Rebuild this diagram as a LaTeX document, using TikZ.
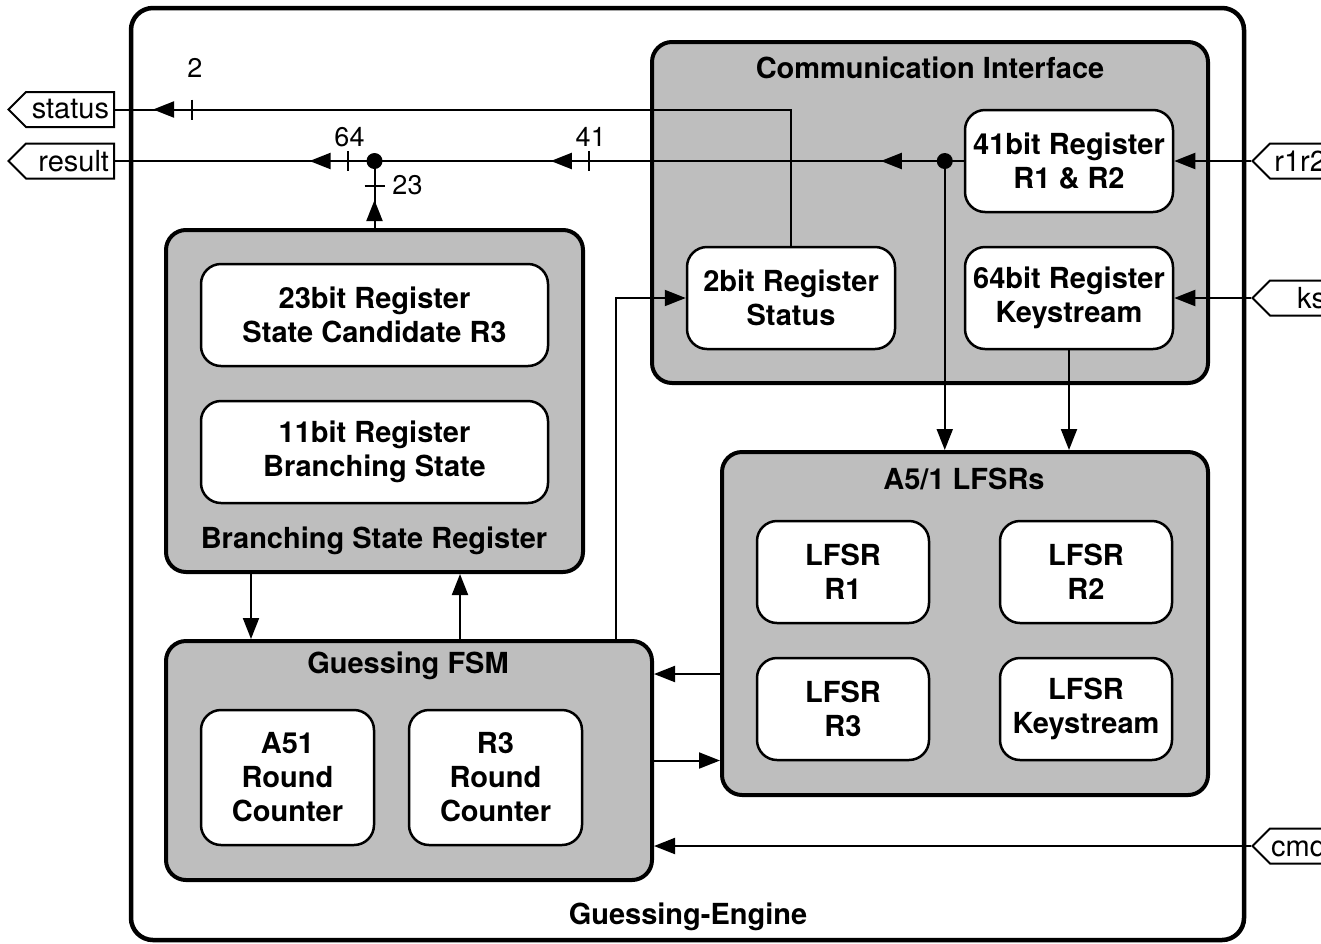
\documentclass[tikz,border=0pt]{standalone}
\usepackage{fontspec}
\setmainfont{TeX Gyre Heros}
\usetikzlibrary{arrows.meta,shapes.symbols}
\definecolor{boxgray}{RGB}{190,190,190}
\newcommand\blockfont{\fontsize{29}{34}\selectfont\bfseries}
\newcommand\portfont{\fontsize{29}{34}\selectfont}
\newcommand\widthfont{\fontsize{27}{32}\selectfont}
\tikzset{
  engine/.style={draw, line width=4.5pt, rounded corners=22pt},
  group/.style={draw, fill=boxgray, line width=4pt, rounded corners=20pt, inner sep=0pt},
  reg/.style={draw, fill=white, line width=2.5pt, rounded corners=20pt, align=center, inner sep=0pt, font=\blockfont},
  title/.style={font=\blockfont, inner sep=0pt},
  port/.style={shape=signal, signal to=west, signal from=nowhere, draw, fill=white,
    line width=2pt, minimum height=35pt, inner ysep=0pt, font=\portfont, align=right},
  wire/.style={line width=2pt},
  tip/.style={-{Triangle[length=21pt,width=16pt]}},
  buswidth/.style={font=\widthfont, inner sep=0pt},
}
\begin{document}
\begin{tikzpicture}[x=1pt,y=-1pt]
\useasboundingbox (0,0) rectangle (1321,943);

% enclosing engine
\draw[engine] (131,8) rectangle (1244,940);
\node[title] (engtitle) at (688,917) {Guessing-Engine};

% group blocks
\node[group, minimum width=556pt, minimum height=341pt] (comm) at (930,212.5) {};
\node[title] (commtitle) at (930,68) {Communication Interface};
\node[group, minimum width=486pt, minimum height=343pt] (lfsrs) at (965,623.5) {};
\node[title] (lfsrtitle) at (964,479) {A5/1 LFSRs};
\node[group, minimum width=417pt, minimum height=342pt] (bsr) at (374.5,401) {};
\node[title] (bsrtitle) at (374,541) {Branching State Register};
\node[group, minimum width=486pt, minimum height=239pt] (fsm) at (409,760.5) {};
\node[title] (fsmtitle) at (408,666) {Guessing FSM};

% registers
\node[reg, minimum width=208pt, minimum height=102pt] (r12) at (1069,161) {41bit Register\\R1 \& R2};
\node[reg, minimum width=208pt, minimum height=102pt] (ksreg) at (1069,298) {64bit Register\\Keystream};
\node[reg, minimum width=208pt, minimum height=102pt] (streg) at (791,298) {2bit Register\\Status};
\node[reg, minimum width=172pt, minimum height=102pt] (lr1) at (843,572) {LFSR\\R1};
\node[reg, minimum width=172pt, minimum height=102pt] (lr2) at (1086,572) {LFSR\\R2};
\node[reg, minimum width=172pt, minimum height=102pt] (lr3) at (843,709) {LFSR\\R3};
\node[reg, minimum width=172pt, minimum height=102pt] (lks) at (1086,709) {LFSR\\Keystream};
\node[reg, minimum width=347pt, minimum height=102pt] (r3reg) at (374.5,315) {23bit Register\\State Candidate R3};
\node[reg, minimum width=347pt, minimum height=102pt] (brreg) at (374.5,452) {11bit Register\\Branching State};
\node[reg, minimum width=173pt, minimum height=135pt] (a51) at (287.5,777.5) {A51\\Round\\Counter};
\node[reg, minimum width=173pt, minimum height=135pt] (r3c) at (495.5,777.5) {R3\\Round\\Counter};

% ports
\node[port, text width=78pt, inner xsep=5pt, anchor=east] (status) at (115,109.5) {status};
\node[port, text width=78pt, inner xsep=5pt, anchor=east] (result) at (115,161) {result};
\node[port, text width=55pt, inner xsep=1pt, anchor=east] (r1r2) at (1328,161) {r1r2};
\node[port, text width=55pt, inner xsep=1pt, anchor=east] (ksport) at (1328,298) {ks};
\node[port, text width=55pt, inner xsep=1pt, anchor=east] (cmd) at (1328,846) {cmd};

% status bus (2 bit)
\draw[wire] (streg.north) |- (status.east);
\draw[wire,tip] ([xshift=60pt]status.east) -- ([xshift=38pt]status.east);
\draw[wire] ([xshift=77pt,yshift=10pt]status.east) -- ([xshift=77pt,yshift=-10pt]status.east);
\node[buswidth] at ([xshift=80pt,yshift=41.5pt]status.east) {2};

% result bus (41 + 23 = 64 bit)
\coordinate (j41) at ([xshift=-19pt]r12.west);
\coordinate (j23) at (bsr.north |- r12.west);
\draw[wire] (r12.west) -- (result.east);
\draw[wire,tip] ([xshift=-42pt]j41) -- ([xshift=-64pt]j41);
\draw[wire,tip] ([xshift=-372pt]j41) -- ([xshift=-394pt]j41);
\draw[wire] ([xshift=-356pt,yshift=10pt]j41) -- ([xshift=-356pt,yshift=-10pt]j41);
\node[buswidth] at ([xshift=-354pt,yshift=24pt]j41) {41};
\draw[wire,tip] ([xshift=-43pt]j23) -- ([xshift=-65pt]j23);
\draw[wire] ([xshift=-27pt,yshift=10pt]j23) -- ([xshift=-27pt,yshift=-10pt]j23);
\node[buswidth] at ([xshift=-25pt,yshift=24pt]j23) {64};
\draw[wire] (bsr.north) -- (j23);
\draw[wire,tip] ([yshift=-59pt]j23) -- ([yshift=-39pt]j23);
\draw[wire] ([xshift=-10pt,yshift=-25pt]j23) -- ([xshift=10pt,yshift=-25pt]j23);
\node[buswidth] at ([xshift=33pt,yshift=-24pt]j23) {23};
\fill (j41) circle (8pt);
\fill (j23) circle (8pt);

% into the LFSRs
\draw[wire,tip] (j41) -- (j41 |- lfsrs.north);
\draw[wire,tip] (ksreg.south) -- (ksreg.south |- lfsrs.north);

% external inputs
\draw[wire,tip] (r1r2.west) -- (r12.east);
\draw[wire,tip] (ksport.west) -- (ksreg.east);
\draw[wire,tip] (cmd.west) -- (cmd.west -| fsm.east);

% FSM links
\coordinate (lfo) at ([yshift=-50.5pt]lfsrs.west);
\draw[wire,tip] (lfo) -- (lfo -| fsm.east);
\draw[wire,tip] (fsm.east) -- (fsm.east -| lfsrs.west);
\coordinate (bdn) at ([xshift=87pt]bsr.south west);
\draw[wire,tip] (bdn) -- (bdn |- fsm.north);
\coordinate (bup) at ([xshift=296pt]fsm.north west);
\draw[wire,tip] (bup) -- (bup |- bsr.south);
\coordinate (fst) at ([xshift=452pt]fsm.north west);
\draw[wire,tip] (fst) |- (streg.west);
\end{tikzpicture}
\end{document}
